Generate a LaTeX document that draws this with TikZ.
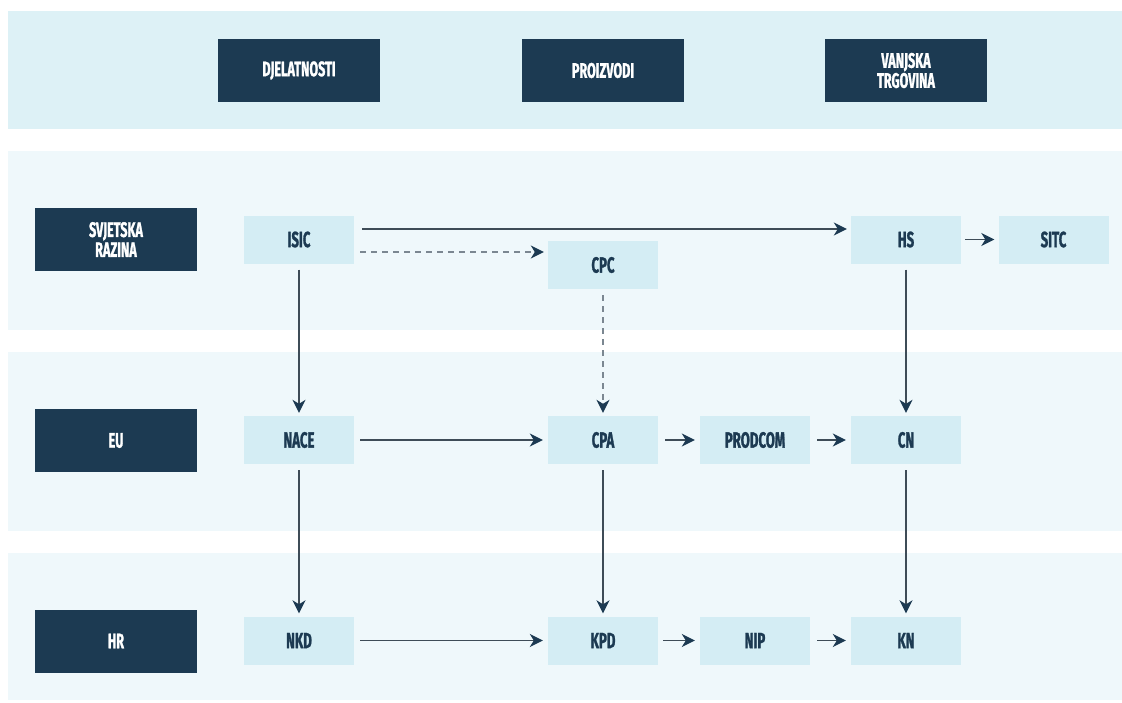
\documentclass[tikz,border=0pt]{standalone}
\usepackage{fontspec}
\setmainfont{Fira Sans}[FakeStretch=0.6, BoldFeatures={FakeBold=1.2}]
\usetikzlibrary{arrows.meta}
\definecolor{navy}{HTML}{1C3A52}
\definecolor{boxblue}{HTML}{D4EDF4}
\definecolor{headband}{HTML}{DDF1F6}
\definecolor{rowband}{HTML}{EFF8FB}
\definecolor{linegray}{HTML}{3E4C57}
\definecolor{dashgray}{HTML}{7B8791}

\begin{document}
\begin{tikzpicture}[x=1pt,y=-1pt,
			darknode/.style={fill=navy, text=white, minimum width=162pt, minimum height=63pt, inner sep=0pt, align=center, font=\bfseries\fontsize{21}{20}\selectfont},
			lightnode/.style={fill=boxblue, text=navy, minimum width=110pt, minimum height=48pt, inner sep=0pt, font=\bfseries\fontsize{22}{20}\selectfont},
			arr/.style={-{Stealth[length=13pt,width=13pt,inset=4pt,color=navy]}, line width=1.3pt, draw=linegray, shorten <=6pt, shorten >=4pt},
			dasharr/.style={arr, draw=dashgray, dash pattern=on 6pt off 5pt}
		]
		\useasboundingbox (0,0) rectangle (1122,702);
		\fill[headband] (8,11) rectangle (1122,129);
		\fill[rowband] (8,151) rectangle (1122,330);
		\fill[rowband] (8,352) rectangle (1122,531);
		\fill[rowband] (8,553) rectangle (1122,700);

		\node[darknode] (djel) at (299,70.5) {DJELATNOSTI};
		\node[darknode] (proiz) at (603,70.5) {PROIZVODI};
		\node[darknode] (vanj) at (906,70.5) {VANJSKA\\TRGOVINA};

		\node[darknode] (svj) at (116,239.5) {SVJETSKA\\RAZINA};
		\node[darknode] (eu) at (116,440.5) {EU};
		\node[darknode] (hr) at (116,641) {HR};

		\node[lightnode] (isic) at (299,239.5) {ISIC};
		\node[lightnode] (cpc) at (603,265) {CPC};
		\node[lightnode] (hs) at (906,239.5) {HS};
		\node[lightnode] (sitc) at (1053.5,239.5) {SITC};

		\node[lightnode] (nace) at (299,440) {NACE};
		\node[lightnode] (cpa) at (603,440) {CPA};
		\node[lightnode] (prodcom) at (755,440) {PRODCOM};
		\node[lightnode] (cn) at (906,440) {CN};

		\node[lightnode] (nkd) at (299,640.5) {NKD};
		\node[lightnode] (kpd) at (603,640.5) {KPD};
		\node[lightnode] (nip) at (755,640.5) {NIP};
		\node[lightnode] (kn) at (906,640.5) {KN};

		\draw[arr, shorten <=8pt] ([yshift=10.5pt]isic.east) -- ([yshift=10.5pt]hs.west);
		\draw[dasharr] ([yshift=-12.5pt]isic.east) -- ([yshift=13pt]cpc.west);
		\draw[arr, shorten <=4pt] (hs) -- (sitc);

		\draw[arr, shorten >=3pt] (isic) -- (nace);
		\draw[dasharr, shorten >=3pt] (cpc) -- (cpa);
		\draw[arr, shorten >=3pt] (hs) -- (cn);

		\draw[arr, shorten >=5pt] (nace) -- (cpa);
		\draw[arr, shorten <=7pt, shorten >=5pt] (cpa) -- (prodcom);
		\draw[arr, shorten <=7pt, shorten >=5pt] (prodcom) -- (cn);

		\draw[arr, shorten >=3pt] (nace) -- (nkd);
		\draw[arr, shorten >=3pt] (cpa) -- (kpd);
		\draw[arr, shorten >=3pt] (cn) -- (kn);

		\draw[arr, shorten >=5pt] (nkd) -- (kpd);
		\draw[arr, shorten <=5pt, shorten >=5pt] (kpd) -- (nip);
		\draw[arr, shorten <=7pt, shorten >=5pt] (nip) -- (kn);
	\end{tikzpicture}
\end{document}
